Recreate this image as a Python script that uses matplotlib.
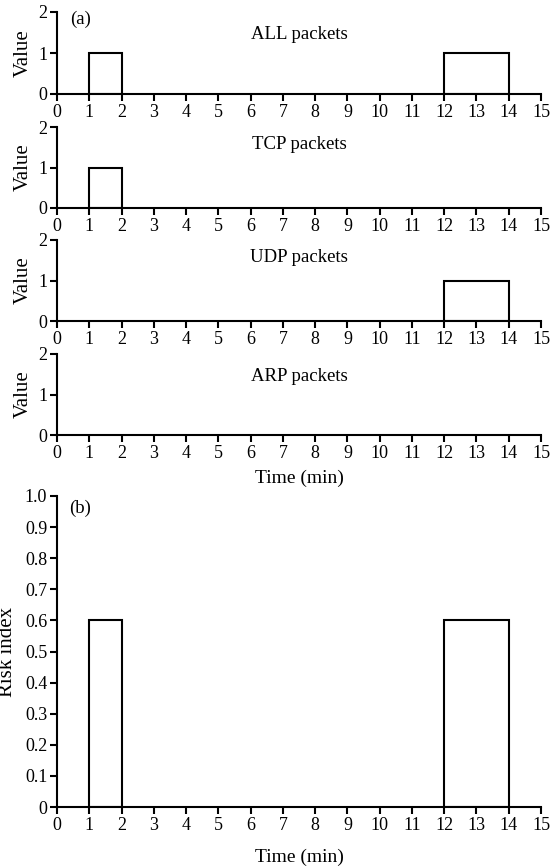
import matplotlib
matplotlib.use("Agg")
import matplotlib.pyplot as plt

plt.rcParams['font.family'] = ['Liberation Serif', 'DejaVu Serif']
plt.rcParams['font.size'] = 12

# Data: (start, width, value) boxes per panel
panel_titles = ["ALL packets", "TCP packets", "UDP packets", "ARP packets"]
all_starts = [1, 12]
all_widths = [1, 2]
all_values = [1, 1]
tcp_starts = [1]
tcp_widths = [1]
tcp_values = [1]
udp_starts = [12]
udp_widths = [2]
udp_values = [1]
arp_starts = []
arp_widths = []
arp_values = []
risk_starts = [1, 12]
risk_widths = [1, 2]
risk_values = [0.6, 0.6]

x_ticks = list(range(0, 16))
value_ticks = [0, 1, 2]
risk_ticks = [0, 0.1, 0.2, 0.3, 0.4, 0.5, 0.6, 0.7, 0.8, 0.9, 1.0]
risk_tick_labels = ["0", "0.1", "0.2", "0.3", "0.4", "0.5", "0.6", "0.7", "0.8", "0.9", "1.0"]

panels = [
    (all_starts, all_widths, all_values),
    (tcp_starts, tcp_widths, tcp_values),
    (udp_starts, udp_widths, udp_values),
    (arp_starts, arp_widths, arp_values),
]

W, H = 556, 867
fig = plt.figure(figsize=(W / 100, H / 100), dpi=100)

left = 57 / W
right = 541 / W
tops = [12, 127, 240, 354]
bottoms = [94, 208, 321, 435]
title_y = [0.72, 0.78, 0.78, 0.72]

TICK_FS = 13
TITLE_FS = 13.5
LABEL_FS = 14

def style(ax):
    for s in ['top', 'right']:
        ax.spines[s].set_visible(False)
    for s in ['left', 'bottom']:
        ax.spines[s].set_linewidth(1.5)
    ax.tick_params(direction='out', width=1.5, length=5, labelsize=TICK_FS, pad=2)
    ax.set_xlim(0, 15)
    ax.set_xticks(x_ticks)

for i, (starts, widths, values) in enumerate(panels):
    t, b = tops[i], bottoms[i]
    ax = fig.add_axes([left, 1 - b / H, right - left, (b - t) / H])
    style(ax)
    ax.set_ylim(0, 2)
    ax.set_yticks(value_ticks)
    if starts:
        ax.bar(starts, values, width=widths, align='edge', fill=False,
               edgecolor='black', linewidth=1.5)
    ax.text(0.5, title_y[i], panel_titles[i], transform=ax.transAxes,
            ha='center', va='center', fontsize=TITLE_FS)
    ax.set_ylabel("Value", fontsize=15)
    ax.yaxis.set_label_coords(-0.05, 0.5)
    if i == 0:
        ax.text(0.048, 0.91, "(a)", transform=ax.transAxes, ha='center',
                va='center', fontsize=TITLE_FS)
    if i == 3:
        ax.set_xlabel("Time (min)", fontsize=LABEL_FS, labelpad=6)

# Panel (b)
t, b = 496, 807
axb = fig.add_axes([left, 1 - b / H, right - left, (b - t) / H])
style(axb)
axb.set_ylim(0, 1.0)
axb.set_yticks(risk_ticks)
axb.set_yticklabels(risk_tick_labels)
axb.bar(risk_starts, risk_values, width=risk_widths, align='edge', fill=False,
        edgecolor='black', linewidth=1.5)
axb.text(0.048, 0.96, "(b)", transform=axb.transAxes, ha='center',
         va='center', fontsize=TITLE_FS)
axb.set_ylabel("Risk index", fontsize=15)
axb.yaxis.set_label_coords(-0.082, 0.5)
axb.set_xlabel("Time (min)", fontsize=LABEL_FS, labelpad=11)

fig.savefig("out.png", dpi=100)
